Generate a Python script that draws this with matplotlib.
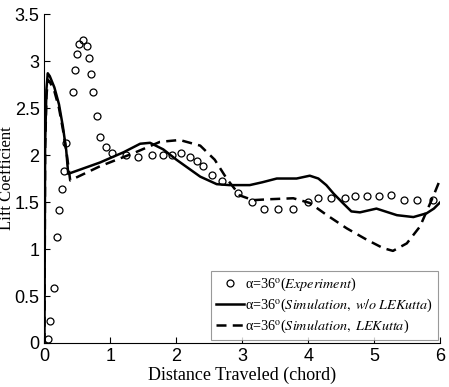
import numpy as np
import matplotlib
matplotlib.use("Agg")
import matplotlib.pyplot as plt

plt.rcParams['mathtext.fontset'] = 'stix'

# experiment (circles)
exp_x = [0.06, 0.08, 0.15, 0.19, 0.22, 0.26, 0.30, 0.33, 0.43, 0.46, 0.49, 0.52,
         0.58, 0.65, 0.67, 0.70, 0.73, 0.79, 0.84, 0.93, 1.02, 1.23, 1.42, 1.63,
         1.79, 1.94, 2.07, 2.21, 2.31, 2.40, 2.54, 2.69, 2.94, 3.15, 3.33, 3.54,
         3.76, 4.00, 4.15, 4.34, 4.56, 4.70, 4.89, 5.07, 5.25, 5.44, 5.65, 5.89]
exp_y = [0.04, 0.23, 0.59, 1.13, 1.41, 1.64, 1.83, 2.13, 2.67, 2.90, 3.07, 3.18,
         3.22, 3.16, 3.03, 2.86, 2.67, 2.42, 2.19, 2.09, 2.02, 2.00, 1.98, 2.00,
         2.00, 2.00, 2.02, 1.98, 1.94, 1.88, 1.79, 1.72, 1.60, 1.50, 1.43, 1.43,
         1.43, 1.50, 1.54, 1.54, 1.54, 1.56, 1.56, 1.56, 1.57, 1.52, 1.52, 1.52]

# simulation w/o LEKutta (solid)
sim_x = [0.0, 0.01, 0.03, 0.05, 0.08, 0.15, 0.22, 0.28, 0.33, 0.36, 0.84, 1.20,
         1.45, 1.60, 1.80, 2.00, 2.20, 2.36, 2.61, 2.80, 3.11, 3.30, 3.52, 3.82,
         4.02, 4.15, 4.27, 4.38, 4.52, 4.65, 4.78, 5.03, 5.34, 5.59, 5.79, 5.90, 6.0]
sim_y = [0.0, 2.10, 2.70, 2.87, 2.84, 2.72, 2.54, 2.30, 2.05, 1.80, 1.92, 2.03,
         2.12, 2.13, 2.06, 1.95, 1.85, 1.77, 1.69, 1.68, 1.68, 1.71, 1.75, 1.75,
         1.78, 1.75, 1.68, 1.59, 1.49, 1.40, 1.39, 1.43, 1.36, 1.34, 1.38, 1.43, 1.50]

# simulation LEKutta (dashed)
lek_x = [0.0, 0.01, 0.03, 0.05, 0.08, 0.15, 0.22, 0.28, 0.34, 0.39, 0.84, 1.35,
         1.75, 2.05, 2.36, 2.58, 2.76, 2.96, 3.16, 3.42, 3.77, 4.02, 4.28, 4.58,
         4.88, 5.13, 5.28, 5.49, 5.69, 5.89, 6.0]
lek_y = [0.0, 2.05, 2.62, 2.80, 2.78, 2.68, 2.50, 2.27, 2.00, 1.73, 1.88, 2.02,
         2.14, 2.16, 2.10, 1.95, 1.75, 1.57, 1.52, 1.53, 1.54, 1.49, 1.36, 1.22,
         1.10, 1.01, 0.98, 1.06, 1.24, 1.56, 1.75]

labels = ['α=36$^{\\mathrm{o}}$($\\mathit{Experiment}$)',
          'α=36$^{\\mathrm{o}}$($\\mathit{Simulation,\\ w/o\\ LEKutta}$)',
          'α=36$^{\\mathrm{o}}$($\\mathit{Simulation,\\ LEKutta}$)']

fig = plt.figure(figsize=(4.49, 3.87), dpi=100)
ax = fig.add_axes([0.099, 0.1137, 0.882, 0.850])

ax.plot(exp_x, exp_y, 'o', mfc='none', mec='black', ms=5, mew=0.9, label=labels[0])
ax.plot(sim_x, sim_y, '-', color='black', lw=1.8, label=labels[1])
ax.plot(lek_x, lek_y, '--', color='black', lw=1.8, dashes=(4, 2.5), label=labels[2])

ax.set_xlim(0, 6)
ax.set_ylim(0, 3.5)
ax.set_xticks(range(7))
ax.set_yticks(np.arange(0, 3.51, 0.5))
ax.set_yticklabels(['0', '0.5', '1', '1.5', '2', '2.5', '3', '3.5'])
ax.tick_params(direction='in', length=4, labelsize=13, width=0.8)
for lab in ax.get_xticklabels() + ax.get_yticklabels():
    lab.set_fontfamily('Liberation Sans')
ax.spines['top'].set_visible(False)
ax.spines['right'].set_visible(False)

ax.set_xlabel('Distance Traveled (chord)', fontfamily='Liberation Serif', fontsize=13, labelpad=1)
ax.set_ylabel('Lift Coefficient', fontfamily='Liberation Serif', fontsize=12)
ax.yaxis.set_label_coords(-0.075, 0.5)

leg = ax.legend(loc='lower right', bbox_to_anchor=(0.994, 0.009), borderaxespad=0,
                fancybox=False, edgecolor='gray', handlelength=2.0, handletextpad=0.05,
                prop={'family': 'Liberation Serif', 'size': 10.2}, borderpad=0.35,
                labelspacing=0.25)
leg.get_frame().set_linewidth(0.8)

fig.savefig('out.png', dpi=100)
